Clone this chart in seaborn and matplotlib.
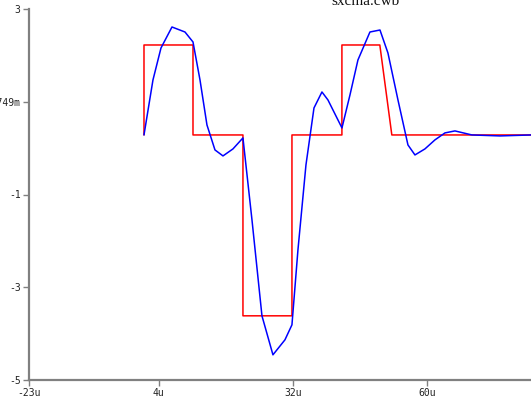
import numpy as np
import pandas as pd
import seaborn as sns
from matplotlib import pyplot as plt

# input pulse train (red), time in u
t_in = [0.96, 0.96, 11.17, 11.17, 21.58, 21.58, 31.79, 31.79, 42.2, 42.2, 50.1, 52.6, 81.6]
v_in = [0.284, 2.224, 2.224, 0.284, 0.284, -3.616, -3.616, 0.284, 0.284, 2.224, 2.224, 0.284, 0.284]

# filtered response (blue)
t_out = [0.96, 2.83, 4.5, 6.79, 9.5, 11.17, 12.63, 14.08, 15.75, 17.42, 19.5, 21.58,
         23.46, 25.54, 27.83, 30.33, 31.79, 33.04, 34.71, 36.38, 38.04, 39.29, 42.21,
         43.88, 45.54, 48.04, 50.13, 51.79, 53.88, 55.96, 57.42, 59.5, 61.58, 63.67,
         65.75, 69.29, 75.13, 81.6]
v_out = [0.284, 1.47, 2.159, 2.612, 2.504, 2.289, 1.47, 0.5, -0.039, -0.168, -0.017, 0.22,
         -1.547, -3.616, -4.457, -4.134, -3.81, -2.194, -0.362, 0.866, 1.211, 1.039, 0.435,
         1.147, 1.901, 2.504, 2.547, 2.052, 1.039, 0.069, -0.147, -0.017, 0.177, 0.328,
         0.371, 0.284, 0.263, 0.284]

y_ticks = [3, 0.999749, -1, -3, -5]
y_labels = ['3', '999.749m', '-1', '-3', '-5']
x_ticks = [-23, 4, 32, 60]
x_labels = ['-23u', '4u', '32u', '60u']

df = pd.concat([
    pd.DataFrame({'t': t_in, 'v': v_in, 'sig': 'in'}),
    pd.DataFrame({'t': t_out, 'v': v_out, 'sig': 'out'}),
], ignore_index=True)

sns.set_theme(style='white')
plt.rcParams['font.family'] = ['DejaVu Sans Mono']

fig = plt.figure(figsize=(5.31, 4.0), dpi=100)
ax = fig.add_axes([29 / 531, 20 / 400, 502 / 531, 371 / 400])
sns.lineplot(data=df, x='t', y='v', hue='sig', palette={'in': '#ff0000', 'out': '#0000ff'},
             sort=False, estimator=None, legend=False, linewidth=1.1, ax=ax)

ax.set_xlim(-23, 81.6)
ax.set_ylim(-5, 3)
ax.set_xticks(x_ticks)
ax.set_xticklabels(x_labels)
ax.set_yticks(y_ticks)
ax.set_yticklabels(y_labels)
ax.set_xlabel('')
ax.set_ylabel('')
for s in ['top', 'right']:
    ax.spines[s].set_visible(False)
for s in ['left', 'bottom']:
    ax.spines[s].set_color('#808080')
    ax.spines[s].set_linewidth(1.6)
ax.tick_params(axis='both', direction='out', length=4, width=1, color='#808080',
               labelsize=7, labelcolor='#222222', pad=2, left=True, bottom=True)
ax.grid(False)

fig.text(365 / 531, 1 - 5 / 400, 'sxcma.cwb', ha='center', va='baseline',
         family='Liberation Serif', fontsize=11, color='#111111')

fig.savefig('out.png', dpi=100)
